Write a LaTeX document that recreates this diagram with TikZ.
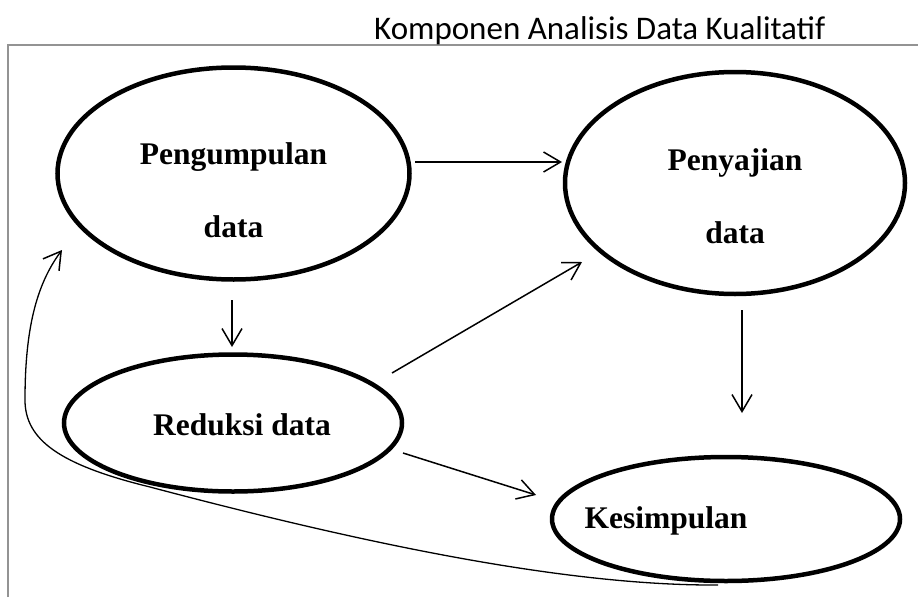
\documentclass[tikz,border=0pt]{standalone}
\usepackage{fontspec}
\setmainfont{Liberation Serif}
\newfontfamily\titlefont{Carlito}
\usetikzlibrary{shapes.geometric,arrows.meta}

\begin{document}
\begin{tikzpicture}[x=1pt,y=-1pt,
  every node/.style={inner sep=0pt},
  oval/.style={ellipse,draw,line width=4.5pt},
  word/.style={font=\fontsize{31.5}{73}\selectfont\bfseries,align=center},
  arr/.style={-{Straight Barb[length=17pt,width=20pt,line width=1.5pt]},line width=1.5pt}]
\useasboundingbox (0,0) rectangle (918,597);
% frame and title
\draw[gray!85,line width=1.5pt] (8,597) -- (8,45) -- (918,45);
\node[anchor=base west](title) at (374,39) {\titlefont\fontsize{33}{40}\selectfont Komponen Analisis Data Kualitatif};
% the four parts
\node[oval,minimum width=352pt,minimum height=212pt](pg) at (233.5,173.5) {};
\node[oval,minimum width=340pt,minimum height=222pt](pj) at (735,183)     {};
\node[oval,minimum width=338pt,minimum height=137pt](rd) at (233,423)     {};
\node[oval,minimum width=348pt,minimum height=124pt](ks) at (726,519)     {};
\node[word](pgt) at ([yshift=-17pt]pg.center) {Pengumpulan\\data};
\node[word](pjt) at ([yshift=-13pt]pj.center) {Penyajian\\data};
\node[word](rdt) at ([xshift=9pt,yshift=-2pt]rd.center) {Reduksi data};
\node[word](kst) at ([xshift=-60pt,yshift=-2pt]ks.center) {Kesimpulan};
% arrows
\draw[arr] ([shift={(181.5,-11.5)}]pg.center) -- ([shift={(-173,-21)}]pj.center);
\draw[arr] ([shift={(-1.5,126.5)}]pg.center)  -- ([shift={(-1,-76)}]rd.center);
\draw[arr] ([shift={(159,-50)}]rd.center)     -- ([shift={(-153,79)}]pj.center);
\draw[arr] ([shift={(170,30)}]rd.center)      -- ([shift={(-190,-24)}]ks.center);
\draw[arr] ([shift={(7,127)}]pj.center)       -- ([shift={(16,-106)}]ks.center);
% back to the start
\coordinate(back) at ([shift={(-171.5,76.5)}]pg.center);
\draw[arr,line width=1.3pt] ([shift={(-8,66)}]ks.center)
  .. controls (560,586) and (350,540) .. (150,487)
  .. controls (60,465) and (25,440) .. (25,400)
  .. controls (25,330) and (36,285) .. (back);
\end{tikzpicture}
\end{document}
